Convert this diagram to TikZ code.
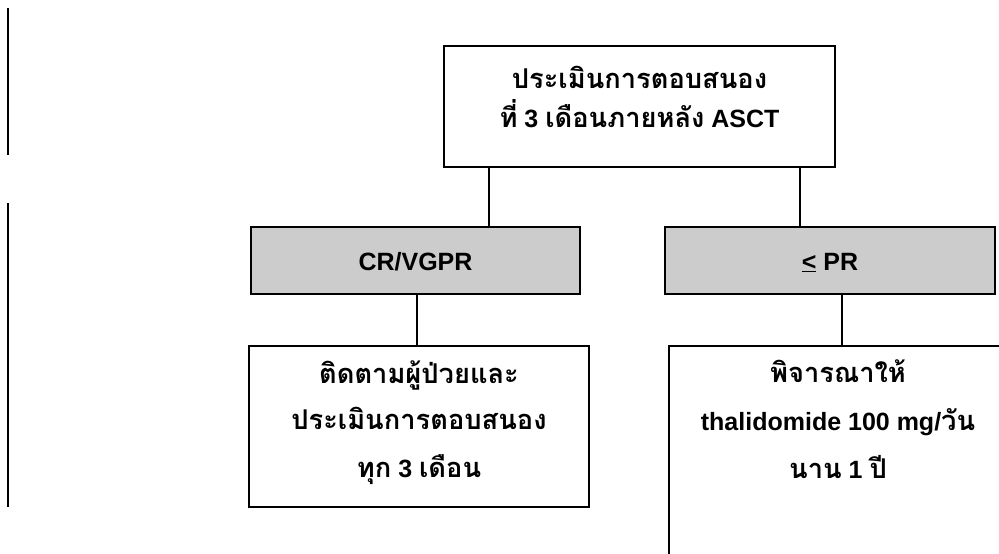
\documentclass[tikz,border=0pt]{standalone}
\usepackage{fontspec}
\setmainfont{Liberation Sans}
\newfontfamily\thaifont[Script=Thai,Scale=1.09]{Loma}
\newcommand{\tht}[1]{{\thaifont #1}}
\begin{document}
\begin{tikzpicture}[x=1pt,y=-1pt,
  box/.style={draw=black, line width=1.8pt, fill=white, inner sep=0pt},
  graybox/.style={box, fill=black!20},
  txt/.style={anchor=base, inner sep=0pt, font=\fontsize{25}{30}\selectfont\bfseries},
  conn/.style={draw=black, line width=1.2pt}]
\useasboundingbox (0,0) rectangle (999,554);
% left margin bars
\draw[line width=2.4pt] (8,8) -- (8,155);
\draw[line width=2.4pt] (8,203) -- (8,507);
% boxes
\node[box, minimum width=391pt, minimum height=121pt] (top) at (639.5,106.5) {};
\node[graybox, minimum width=329pt, minimum height=67pt] (cr) at (415.5,260.5) {};
\node[graybox, minimum width=330pt, minimum height=67pt] (pr) at (830,260.5) {};
\node[box, minimum width=340pt, minimum height=161pt] (fu) at (419,426.5) {};
\node[inner sep=0pt, minimum width=338pt, minimum height=260pt] (th) at (838,476) {};
\draw[line width=1.8pt] (th.north east) -- (th.north west) -- (th.south west);
% connectors
\draw[conn] (top.south -| 489,0) -- (cr.north -| 489,0);
\draw[conn] (top.south -| 800,0) -- (pr.north -| 800,0);
\draw[conn] (cr.south -| 417,0) -- (fu.north -| 417,0);
\draw[conn] (pr.south -| 842,0) -- (th.north -| 842,0);
% texts
\node[txt] (topa) at (639.5,88) {\tht{ประเมินการตอบสนอง}};
\node[txt] (topb) at (639.5,127) {\tht{ที่} 3 \tht{เดือนภายหลัง} ASCT};
\node[txt] (crt) at (415.5,270) {CR/VGPR};
\node[txt] (prt) at (830,270) {\underline{<} PR};
\node[txt] (fua) at (419,383) {\tht{ติดตามผู้ป่วยและ}};
\node[txt] (fub) at (419,429) {\tht{ประเมินการตอบสนอง}};
\node[txt] (fuc) at (419,477) {\tht{ทุก} 3 \tht{เดือน}};
\node[txt] (tha) at (838,382) {\tht{พิจารณาให้}};
\node[txt] (thb) at (838,430) {thalidomide 100 mg/\tht{วัน}};
\node[txt] (thc) at (838,478) {\tht{นาน} 1 \tht{ปี}};
\end{tikzpicture}
\end{document}
